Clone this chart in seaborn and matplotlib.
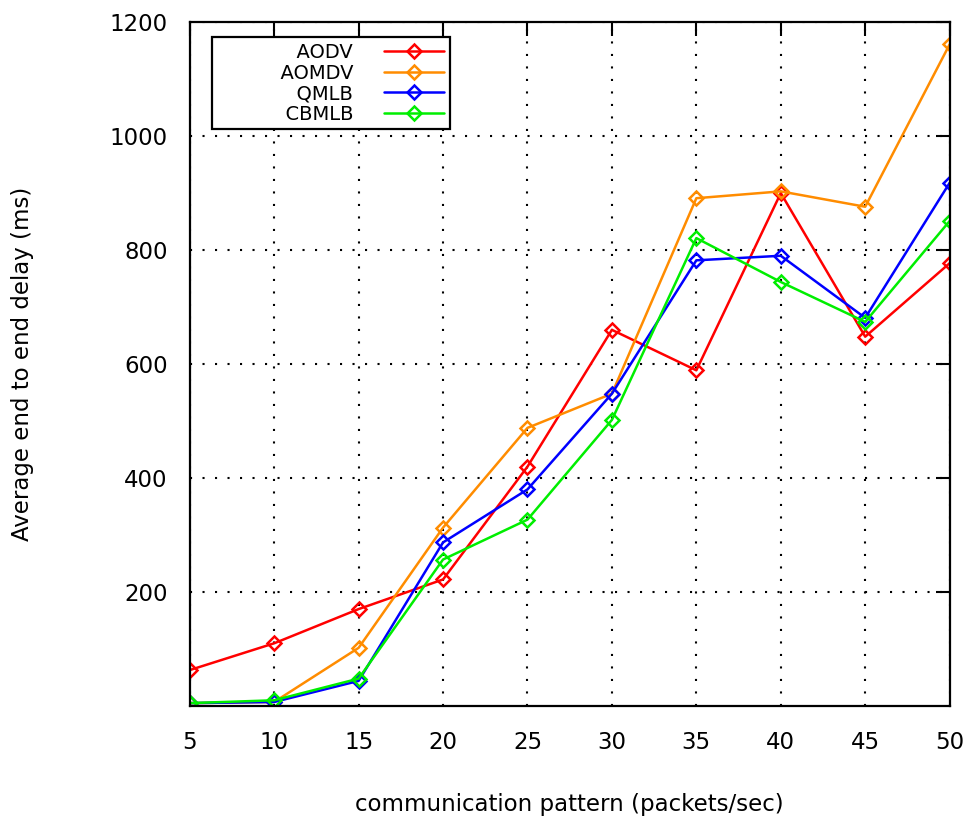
import matplotlib
matplotlib.use('Agg')
import matplotlib.pyplot as plt
import pandas as pd
import seaborn as sns

rate = [5, 10, 15, 20, 25, 30, 35, 40, 45, 50]
aodv = [63, 110, 170, 222, 420, 660, 589, 900, 648, 777]
aomdv = [5, 7, 102, 313, 488, 548, 891, 903, 876, 1161]
qmlb = [5, 7, 44, 287, 380, 548, 782, 790, 681, 918]
cbmlb = [5, 10, 48, 257, 327, 502, 821, 744, 674, 851]

series = {'AODV': aodv, 'AOMDV': aomdv, 'QMLB': qmlb, 'CBMLB': cbmlb}
colors = {'AODV': '#ff0000', 'AOMDV': '#ff8c00', 'QMLB': '#0000ff', 'CBMLB': '#00ee00'}

sns.set_style('white')
plt.rcParams['font.family'] = ['DejaVu Sans']
plt.rcParams['text.color'] = 'black'
plt.rcParams['axes.labelcolor'] = 'black'
plt.rcParams['xtick.color'] = 'black'
plt.rcParams['ytick.color'] = 'black'


def build_frame():
    rows = []
    for name, vals in series.items():
        for x, y in zip(rate, vals):
            rows.append({'rate': x, 'delay': y, 'protocol': name})
    return pd.DataFrame(rows)


def graph():
    df = build_frame()
    fig = plt.figure(figsize=(9.73, 8.19), dpi=100)
    ax = fig.add_axes([0.195, 0.138, 0.781, 0.835])
    for name in series:
        sub = df[df['protocol'] == name]
        # padded label so the gnuplot-style key box is wide with right-aligned text
        sns.lineplot(x='rate', y='delay', data=sub, ax=ax, color=colors[name],
                     marker='D', markersize=7.5, markerfacecolor='none',
                     markeredgecolor=colors[name], markeredgewidth=1.8,
                     linewidth=1.8, label=' ' * 10 + name)

    ax.set_xlim(5, 50)
    ax.set_ylim(0, 1200)
    ax.set_xticks(rate)
    ax.set_yticks([200, 400, 600, 800, 1000, 1200])
    ax.tick_params(axis='both', direction='in', length=10, width=1.5,
                   top=True, right=True, labelsize=16.5)
    ax.tick_params(axis='x', pad=18)
    ax.tick_params(axis='y', pad=16)
    ax.grid(True, color='black', linestyle=(0, (1, 5)), linewidth=1.5)
    for sp in ax.spines.values():
        sp.set_color('black')
        sp.set_linewidth(1.6)

    ax.set_xlabel('communication pattern (packets/sec)', fontsize=16.5, labelpad=28)
    ax.set_ylabel('Average end to end delay (ms)', fontsize=16.5, labelpad=54)

    leg = ax.legend(loc='upper left', bbox_to_anchor=(0.029, 0.978), borderaxespad=0,
                    markerfirst=False, fontsize=14, fancybox=False, framealpha=1,
                    edgecolor='black', handlelength=3.1, labelspacing=0.08,
                    borderpad=0.3, handletextpad=1.6)
    leg.get_frame().set_linewidth(1.6)
    leg.set_zorder(5)

    fig.savefig('out.png', dpi=100)


graph()
